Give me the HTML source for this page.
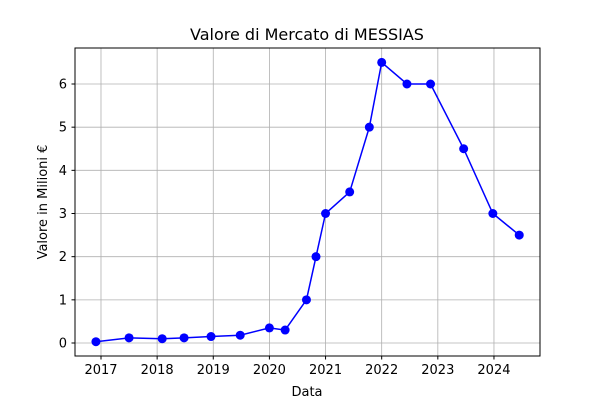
<!DOCTYPE html>
<html><head><meta charset="utf-8"><style>
body{margin:0;background:#fff;}
svg{display:block;font-family:"DejaVu Sans","Liberation Sans",sans-serif;}
</style></head><body>
<svg id="chart" width="600" height="400">
<rect width="600" height="400" fill="#fff"/>
<text x="307" y="40" text-anchor="middle" font-size="16">Valore di Mercato di MESSIAS</text>
<g id="grid"></g><g id="ticks"></g><g id="series"></g>
<rect x="75" y="48" width="465" height="308" fill="none" stroke="#000" stroke-width="1"/>
<text x="307" y="396" text-anchor="middle" font-size="13">Data</text>
<text transform="translate(47,202) rotate(-90)" text-anchor="middle" font-size="13">Valore in Milioni €</text>
</svg>
<script>
const dates = [2016.91,2017.5,2018.09,2018.48,2018.96,2019.48,2020.0,2020.28,2020.66,2020.83,2021.0,2021.43,2021.78,2022.0,2022.45,2022.87,2023.46,2023.98,2024.45];
const values = [0.03,0.12,0.1,0.12,0.15,0.18,0.35,0.3,1.0,2.0,3.0,3.5,5.0,6.5,6.0,6.0,4.5,3.0,2.5];
const xTicks = [2017,2018,2019,2020,2021,2022,2023,2024];
const yTicks = [0,1,2,3,4,5,6];
const L=75,R=540,T=48,B=356;
const xMin=2016.537,xMax=2024.82,yMin=-0.301,yMax=6.834;
const sx=v=>L+(v-xMin)/(xMax-xMin)*(R-L);
const sy=v=>B-(v-yMin)/(yMax-yMin)*(B-T);
const NS="http://www.w3.org/2000/svg";
function mk(tag,attrs,parent,text){const e=document.createElementNS(NS,tag);for(const k in attrs)e.setAttribute(k,attrs[k]);if(text!==undefined)e.textContent=text;parent.appendChild(e);return e;}
const grid=document.getElementById('grid'),ticks=document.getElementById('ticks'),series=document.getElementById('series');
xTicks.forEach(t=>{const x=sx(t);
 const g=mk('line',{x1:x,x2:x,y1:T,y2:B,stroke:'#b0b0b0','stroke-width':0.8},grid);
 
 
 mk('line',{x1:x,x2:x,y1:B,y2:B+3.5,stroke:'#000'},ticks);
 const l=mk('text',{x:x,y:B+18,'text-anchor':'middle','font-size':13},ticks,String(t));
 
 
});
yTicks.forEach(t=>{const y=sy(t);
 const g=mk('line',{x1:L,x2:R,y1:y,y2:y,stroke:'#b0b0b0','stroke-width':0.8},grid);
 
 
 mk('line',{x1:L-3.5,x2:L,y1:y,y2:y,stroke:'#000'},ticks);
 const l=mk('text',{x:L-8,y:y+4.5,'text-anchor':'end','font-size':13},ticks,String(t));
 
 
});
const pts=dates.map((d,i)=>sx(d)+','+sy(values[i])).join(' ');
const line=mk('polyline',{points:pts,fill:'none',stroke:'#0000ff','stroke-width':1.5},series);


dates.forEach((d,i)=>{
 const c=mk('circle',{cx:sx(d),cy:sy(values[i]),r:4.5,fill:'#0000ff'},series);
 
 
});
</script>
</body></html>
